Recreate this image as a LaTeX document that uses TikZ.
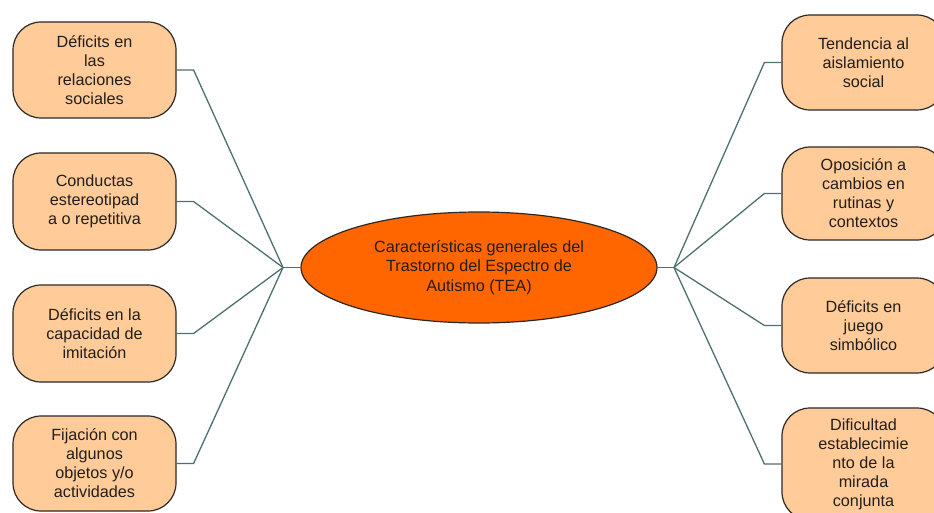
\documentclass[tikz,border=0pt]{standalone}
\usepackage{fontspec}
\setmainfont{Liberation Sans}
\usetikzlibrary{shapes.geometric}
\definecolor{boxfill}{RGB}{255,204,153}
\definecolor{centerfill}{RGB}{255,102,0}
\definecolor{linkcol}{RGB}{78,112,112}
\definecolor{txtcol}{RGB}{35,30,25}
\definecolor{edgecol}{RGB}{45,40,35}
\tikzset{
  itembox/.style={draw=edgecol, line width=1.2pt, fill=boxfill, rounded corners=28pt,
    minimum width=163pt, inner sep=0pt, align=center, text=txtcol,
    font=\fontsize{16.2}{19}\selectfont},
  centerbox/.style={ellipse, draw=edgecol, line width=1.2pt, fill=centerfill,
    minimum width=356pt, minimum height=111pt, inner sep=0pt, align=center, text=txtcol,
    font=\fontsize{16.2}{19.5}\selectfont},
  link/.style={draw=linkcol, line width=1.3pt}
}
\begin{document}
\begin{tikzpicture}[x=1pt,y=-1pt]
\clip (0,0) rectangle (934,513);
\fill[white] (0,0) rectangle (934,513);

\node[centerbox] (C) at (479,267.5) {Características generales del\\Trastorno del Espectro de\\Autismo (TEA)};

\node[itembox, minimum height=96pt] (L1) at (94.5,70) {Déficits en\\las\\relaciones\\sociales};
\node[itembox, minimum height=97pt] (L2) at (94.5,201.5) {Conductas\\estereotipad\\a o repetitiva};
\node[itembox, minimum height=97pt] (L3) at (94.5,333.5) {Déficits en la\\capacidad de\\imitación};
\node[itembox, minimum height=95pt] (L4) at (94.5,463.5) {Fijación con\\algunos\\objetos y/o\\actividades};

\node[itembox, minimum height=95pt] (R1) at (863.5,62.5) {Tendencia al\\aislamiento\\social};
\node[itembox, minimum height=93pt] (R2) at (863.5,193.5) {Oposición a\\cambios en\\rutinas y\\contextos};
\node[itembox, minimum height=95pt] (R3) at (863.5,325.5) {Déficits en\\juego\\simbólico};
\node[itembox, minimum height=112pt] (R4) at (863.5,464) {Dificultad\\establecimie\\nto de la\\mirada\\conjunta};

\coordinate (HL) at (283,267.5);
\coordinate (HR) at (674,267.5);

\draw[link] (C.west) -- (HL);
\draw[link] (C.east) -- (HR);
\foreach \n in {L1,L2,L3,L4}{
  \draw[link] (\n.east) -- ++(17,0) -- (HL);
}
\foreach \n in {R1,R2,R3,R4}{
  \draw[link] (\n.west) -- ++(-17,0) -- (HR);
}
\end{tikzpicture}
\end{document}
